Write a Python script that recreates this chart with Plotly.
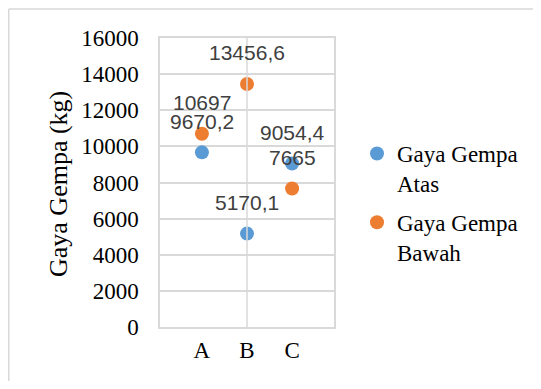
import plotly.graph_objects as go

categories = ["A", "B", "C"]
atas = [9670.2, 5170.1, 9054.4]
bawah = [10697, 13456.6, 7665]
series_names = ["Gaya Gempa<br>Atas", "Gaya Gempa<br>Bawah"]
y_ticks = [0, 2000, 4000, 6000, 8000, 10000, 12000, 14000, 16000]
y_title = "Gaya Gempa (kg)"

colors = ["#5B9BD5", "#ED7D31"]
xs = list(range(len(categories)))

def fmt(v):
    return f"{v:g}".replace(".", ",")

# page body has an 8px margin; layout in screen pixels, converted below
OFF = 8
L, R, T, B = 160, 334, 38, 327
W, H = 541 - 2 * OFF, 389 - 2 * OFF
pw, ph = R - L, B - T
def px(x):
    return (x - L) / pw
def py(y):
    return (B - y) / ph

fig = go.Figure()
for i, (name, vals) in enumerate(zip(series_names, [atas, bawah])):
    fig.add_trace(go.Scatter(
        x=xs, y=vals, mode="markers", name=name,
        marker=dict(color=colors[i], size=14),
        legendgroup=f"g{i}",
    ))
    for x, v in zip(xs, vals):
        fig.add_annotation(x=x, y=v, text=fmt(v), showarrow=False, yshift=31,
                           font=dict(family="Liberation Sans", size=21, color="#404040"))

fig.add_annotation(xref="paper", yref="paper", x=px(58), y=py(184), text=y_title,
                   textangle=-90, showarrow=False, xanchor="center", yanchor="middle",
                   font=dict(family="Liberation Serif", size=26, color="black"))

grid = "#d9d9d9"
fig.add_shape(type="line", xref="x", yref="paper", x0=1, x1=1, y0=0, y1=1,
              line=dict(color=grid, width=1.5))
fig.add_shape(type="line", xref="paper", yref="paper", x0=px(OFF + 0.75), x1=px(545), y0=py(9), y1=py(9),
              line=dict(color=grid, width=1.5))
fig.add_shape(type="line", xref="paper", yref="paper", x0=px(OFF + 0.75), x1=px(OFF + 0.75), y0=py(9), y1=py(395),
              line=dict(color=grid, width=1.5))

fig.update_layout(
    width=W, height=H,
    margin=dict(l=L - OFF, r=W - (R - OFF), t=T - OFF, b=H - (B - OFF), autoexpand=False),
    plot_bgcolor="white", paper_bgcolor="white",
    font=dict(family="Liberation Serif", size=23, color="black"),
    legend=dict(x=px(357), y=py(132), xanchor="left", yanchor="top",
                font=dict(family="Liberation Serif", size=23, color="black"),
                tracegroupgap=6, traceorder="grouped", itemwidth=30, valign="top"),
    showlegend=True,
)
fig.update_xaxes(range=[-0.93, 2.93], tickvals=xs, ticktext=categories, showgrid=False,
                 showline=True, linecolor=grid, linewidth=1.5, mirror=True, automargin=False,
                 ticks="outside", ticklen=2, tickcolor="rgba(0,0,0,0)", zeroline=False)
fig.update_yaxes(range=[0, 16000], tickvals=y_ticks, ticktext=[str(t) for t in y_ticks],
                 showgrid=True, gridcolor=grid, gridwidth=1.5, automargin=False,
                 showline=True, linecolor=grid, linewidth=1.5, mirror=True,
                 ticks="outside", ticklen=15, tickcolor="rgba(0,0,0,0)", zeroline=False)

fig.write_html("out.html")
